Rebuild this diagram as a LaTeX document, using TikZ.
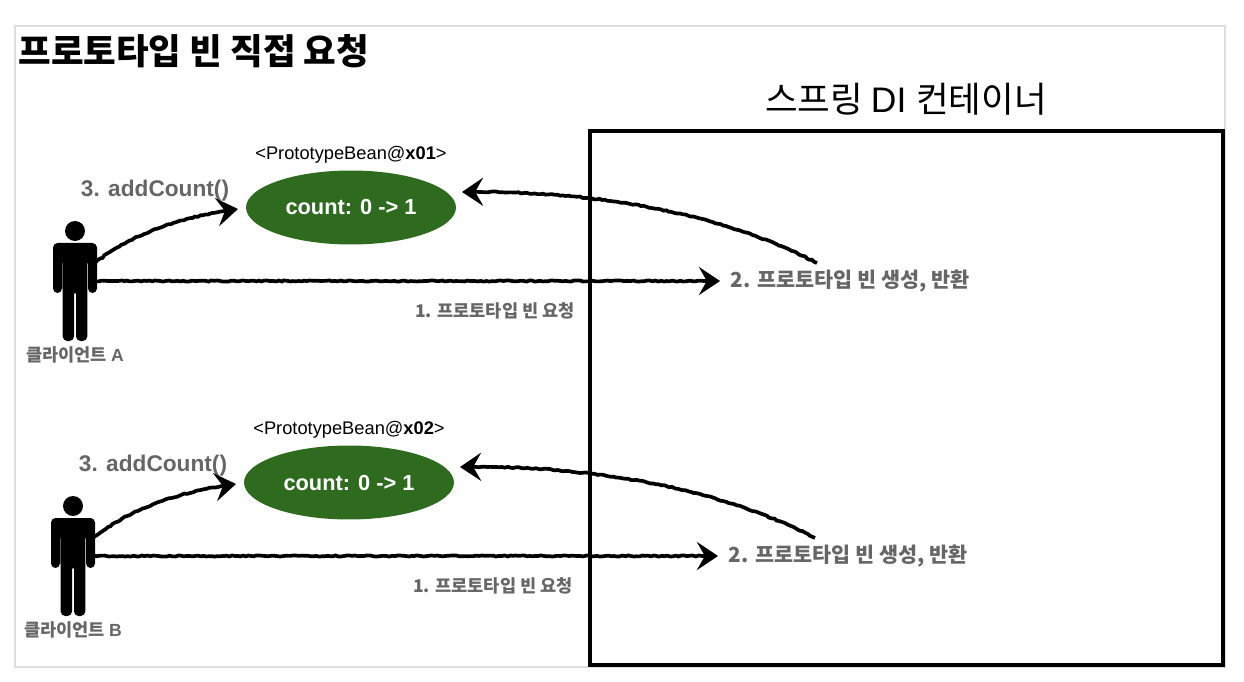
\documentclass[tikz,border=0pt]{standalone}
\usepackage{fontspec}
\setmainfont{Liberation Sans}
\newfontfamily\kr{Noto Sans CJK KR}
\usetikzlibrary{
    arrows.meta,
    decorations.pathmorphing,
    shapes.geometric
}
\definecolor{beangreen}{HTML}{2E6B1F}
\definecolor{labelgray}{HTML}{666666}
\definecolor{framegray}{HTML}{DDDDDD}

\begin{document}
\begin{tikzpicture}[
    x=0.02cm,
    y=-0.02cm,
    titletext/.style={
        font=\fontsize{20.2}{24}\selectfont\bfseries,
        anchor=west,
        inner sep=0pt
    },
    containertext/.style={
        font=\fontsize{20.2}{25}\selectfont,
        inner sep=0pt
    },
    beanname/.style={
        font=\fontsize{10.4}{13}\selectfont,
        inner sep=0pt
    },
    bean/.style={
        ellipse,
        fill=beangreen,
        text=white,
        font=\fontsize{12.4}{15}\selectfont\bfseries,
        minimum width=4.2cm,
        minimum height=1.48cm,
        inner sep=0pt
    },
    stepbig/.style={
        font=\fontsize{12.9}{16}\selectfont\bfseries,
        text=labelgray,
        inner sep=0pt
    },
    stepmid/.style={
        font=\fontsize{11.8}{15}\selectfont\bfseries,
        text=labelgray,
        anchor=west,
        inner sep=6pt
    },
    stepsmall/.style={
        font=\fontsize{10}{12}\selectfont\bfseries,
        text=labelgray,
        inner sep=0pt
    },
    client/.style={
        rectangle,
        minimum width=0.6cm,
        minimum height=2.4cm,
        inner sep=0pt
    },
    sketch/.style={
        -{Stealth[length=12pt,width=16pt,inset=4.5pt]},
        line width=2.1pt,
        black,
        decorate,
        decoration={random steps,segment length=1.6pt,amplitude=0.35pt,post length=9pt}
    },
    person/.pic={
        \fill (0,-50) circle[radius=10];
        \fill[rounded corners=2.6pt] (-22,-38) -- (22,-38) -- (22,12) -- (13,12) -- (13,-22)
            -- (12.3,-22) -- (12.3,60) -- (1,60) -- (1,9) -- (-1,9) -- (-1,60) -- (-12.3,60)
            -- (-12.3,-22) -- (-13,-22) -- (-13,12) -- (-22,12) -- cycle;
    }
]
\useasboundingbox (0,0) rectangle (1244,682);

% =========================================================
% Frames and titles
% =========================================================
\node[draw=framegray, line width=1.2pt, minimum width=24.2cm, minimum height=12.82cm, inner sep=0pt] (frame) at (620,346.5) {};
\node[titletext] (title) at (18,51) {\kr 프로토타입 빈 직접 요청};
\node[draw=black, line width=1.8pt, minimum width=12.66cm, minimum height=10.68cm, inner sep=0pt] (container) at (906.5,398) {};
\node[containertext] (containername) at (906,99) {\kr 스프링 \rmfamily DI \kr 컨테이너};

% =========================================================
% Client A
% =========================================================
\node[client] (clientA) at (75,281) {};
\pic at (clientA) {person};
\node[stepsmall] (clientAname) at (75,355) {\kr 클라이언트 \rmfamily\bfseries A};

\node[beanname] (beanAname) at (351,154.5) {<PrototypeBean@\textbf{x01}>};
\node[bean] (beanA) at (351,207.5) {count: 0 -> 1};
\node[stepbig] (addA) at (155,191) {3. addCount()};
\node[stepmid] (createA) at (720,281) {\kr 2. 프로토타입 빈 생성, 반환};
\node[stepsmall] (requestA) at (495,311) {\kr 1. 프로토타입 빈 요청};
\coordinate (createAtop) at (817,263);
\coordinate (beanAin) at (238,209);
\coordinate (beanAout) at (462,192);
\coordinate (clientAout) at (96,262);

\draw[sketch] (clientA.east) -- (createA.west);
\draw[sketch] (clientAout) .. controls (135,232) and (185,216) .. (beanAin);
\draw[sketch] (createAtop) .. controls (725,215) and (600,190) .. (beanAout);

% =========================================================
% Client B
% =========================================================
\node[client] (clientB) at (73,556) {};
\pic at (clientB) {person};
\node[stepsmall] (clientBname) at (73,630) {\kr 클라이언트 \rmfamily\bfseries B};

\node[beanname] (beanBname) at (349,429.5) {<PrototypeBean@\textbf{x02}>};
\node[bean] (beanB) at (349,482.5) {count: 0 -> 1};
\node[stepbig] (addB) at (153,466) {3. addCount()};
\node[stepmid] (createB) at (718,556) {\kr 2. 프로토타입 빈 생성, 반환};
\node[stepsmall] (requestB) at (493,586) {\kr 1. 프로토타입 빈 요청};
\coordinate (createBtop) at (815,538);
\coordinate (beanBin) at (236,484);
\coordinate (beanBout) at (460,467);
\coordinate (clientBout) at (94,537);

\draw[sketch] (clientB.east) -- (createB.west);
\draw[sketch] (clientBout) .. controls (133,507) and (183,491) .. (beanBin);
\draw[sketch] (createBtop) .. controls (723,490) and (598,465) .. (beanBout);

\end{tikzpicture}
\end{document}
